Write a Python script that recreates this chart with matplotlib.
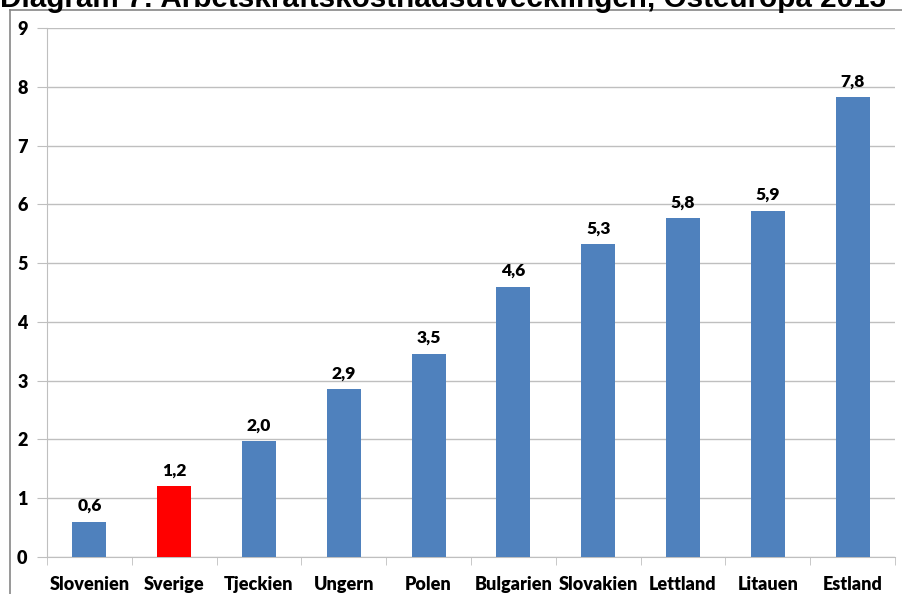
import matplotlib
matplotlib.use('Agg')
import matplotlib.pyplot as plt
from matplotlib.lines import Line2D
import numpy as np

# data
lander = ['Slovenien', 'Sverige', 'Tjeckien', 'Ungern', 'Polen',
          'Bulgarien', 'Slovakien', 'Lettland', 'Litauen', 'Estland']
varden = [0.6, 1.2, 1.97, 2.85, 3.46, 4.6, 5.32, 5.76, 5.89, 7.82]
farger = ['#4F81BD', '#FF0000'] + ['#4F81BD'] * 8

plt.rcParams['font.family'] = ['Lato', 'DejaVu Sans']

fig = plt.figure(figsize=(9.02, 5.94), dpi=100)
ax = fig.add_axes([47 / 902, 1 - 557 / 594, 848 / 902, 529 / 594])

x = np.arange(len(lander))
bars = ax.bar(x, varden, width=0.4, color=farger, zorder=3)

for b, v in zip(bars, varden):
    ax.text(b.get_x() + b.get_width() / 2, v + 0.13, f'{v:.1f}'.replace('.', ','),
            ha='center', va='bottom', fontsize=12.5, fontweight='heavy')

ax.set_xlim(-0.5, len(lander) - 0.5)
ax.set_ylim(0, 9)
ax.set_yticks(range(0, 10))
ax.set_xticks(x)
ax.set_xticklabels(lander, fontsize=13, fontweight='heavy')
ax.set_xticks(np.arange(-0.5, len(lander), 1), minor=True)
ax.tick_params(axis='x', which='major', length=0, pad=14)
ax.tick_params(axis='x', which='minor', length=6, color='#BFBFBF')
ax.tick_params(axis='y', length=7, color='#BFBFBF', pad=7)
for t in ax.get_yticklabels():
    t.set_fontsize(13)
    t.set_fontweight('heavy')

ax.grid(axis='y', color='#BFBFBF', linewidth=1, zorder=0)
for s in ['top', 'right']:
    ax.spines[s].set_visible(False)
for s in ['left', 'bottom']:
    ax.spines[s].set_color('#BFBFBF')

# ram runt diagrammet
fig.add_artist(Line2D([10 / 902, 10 / 902], [0, 1 - 10 / 594], color='#868686', lw=1.2))
fig.add_artist(Line2D([10 / 902, 1], [1 - 10 / 594, 1 - 10 / 594], color='#868686', lw=1.2))

fig.text(0.0, 1 - 7 / 594, 'Diagram 7: Arbetskraftskostnadsutvecklingen, Östeuropa 2013',
         ha='left', va='baseline', fontsize=21.3, fontweight='bold',
         family=['Liberation Sans', 'DejaVu Sans'])

fig.savefig('out.png', dpi=100)
